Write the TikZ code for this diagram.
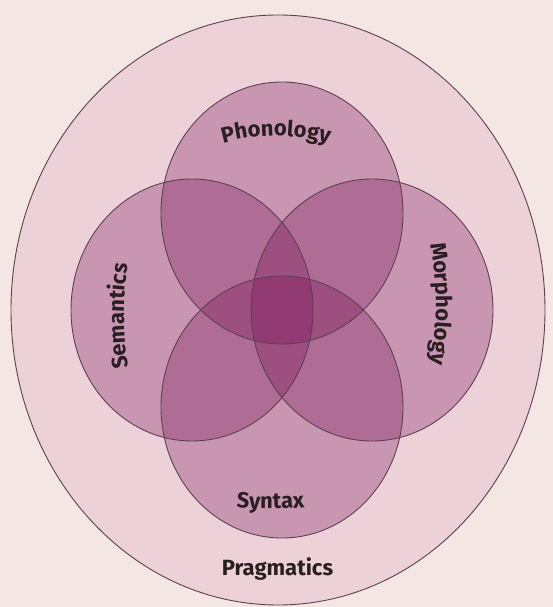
\documentclass[tikz,border=0pt]{standalone}
\usepackage{fontspec}
\setmainfont{Fira Sans}
\usetikzlibrary{shapes.geometric,decorations.text}
\definecolor{page}{HTML}{F3E6E3}
\definecolor{outerfill}{HTML}{ECD2D8}
\definecolor{ring}{HTML}{5E4050}
\definecolor{venn}{RGB}{118,14,84}
\definecolor{ink}{HTML}{2A1E22}
\newcommand\lblfont{\fontsize{22}{26}\selectfont\bfseries\color{ink}}
\begin{document}
\begin{tikzpicture}[x=1pt,y=1pt,
  vennc/.style={ellipse, fill=venn, fill opacity=0.3, minimum width=242pt, minimum height=262pt, inner sep=0pt},
  ringline/.style={draw=ring, line width=0.9pt},
  curvedlabel/.style={decorate, decoration={text along path, text align=center, text={|\lblfont|#1}}}]
\fill[page] (0,0) rectangle (553,607);
\useasboundingbox (0,0) rectangle (553,607);
\node[ellipse, ringline, fill=outerfill, minimum width=534pt, minimum height=590pt, inner sep=0pt] (prag) at (278,297) {};
\node[vennc] (phon) at (282,394) {};
\node[vennc] (sem) at (192,297) {};
\node[vennc] (morph) at (372,297) {};
\node[vennc] (syn) at (282,200) {};
\foreach \c in {phon,sem,morph,syn}
  \draw[ringline] (\c.center) ellipse[x radius=121, y radius=131];
% labels
\path[curvedlabel=Phonology] (182.1,447.6) arc[start angle=118, end angle=62, radius=200];
\path[curvedlabel=Semantics] (132.9,218.4) arc[start angle=194, end angle=166, radius=300];
\path[curvedlabel=Morphology] (427.1,375.6) arc[start angle=14, end angle=-14, radius=300];
\path[curvedlabel=Syntax] (201,104.1) arc[start angle=260, end angle=280, radius=400];
\node[anchor=base, font=\lblfont, inner sep=0pt] (praglabel) at (277.5,31) {Pragmatics};
\end{tikzpicture}
\end{document}
